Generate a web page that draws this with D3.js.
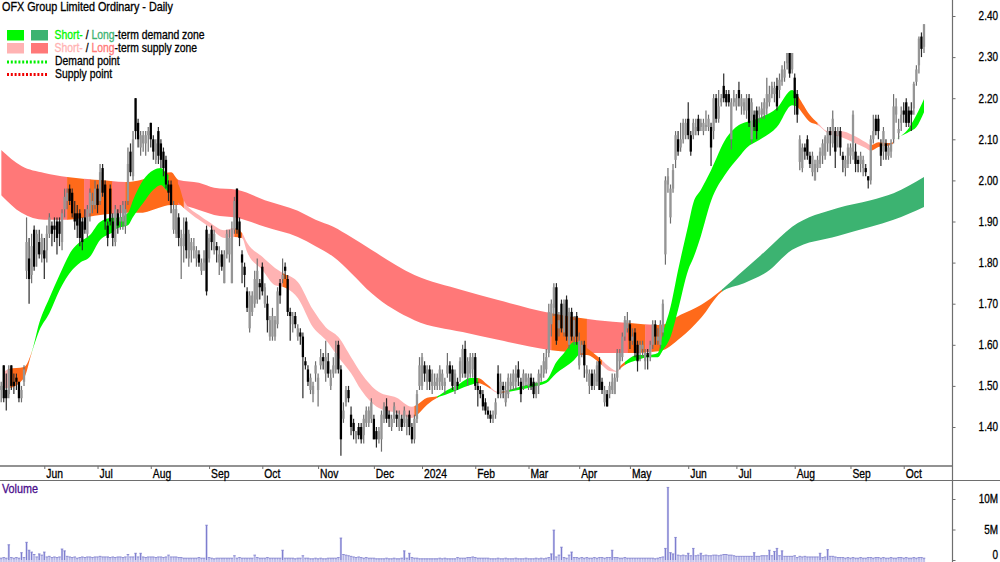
<!DOCTYPE html>
<html><head><meta charset="utf-8">
<script src="https://cdn.jsdelivr.net/npm/d3@7"></script>
<style>html,body{margin:0;padding:0;background:#fff;overflow:hidden}svg{display:block}
text{font-family:"Liberation Sans",Arial,sans-serif}</style></head><body>
<svg id="c" width="1000" height="562"></svg>
<script>
const title="OFX Group Limited Ordinary - Daily";
const monthStarts=[17,38,59,82,103,125,147,166,187,208,228,248,271,290,313,335,356];
const monthLabels=["Jun","Jul","Aug","Sep","Oct","Nov","Dec","2024","Feb","Mar","Apr","May","Jun","Jul","Aug","Sep","Oct"];
const priceTicks=[240,230,220,210,200,190,180,170,160,150,140];
const volumeTicks=[0,5,10];
// prices in cents, one entry per trading day
const opens=[149,155,149,148,155,151,152,151,147,151,
178,181,177,188,182,185,182,183,183,187,
189,189,190,190,185,193,195,198,197,192,
192,192,190,191,187,192,194,194,198,195,
203,199,189,198,190,185,192,190,190,189,
195,207,201,220,214,208,209,209,211,214,
210,205,212,209,207,205,199,199,188,187,
191,184,184,190,181,183,183,181,182,178,
180,188,181,188,183,184,180,182,175,182,
182,175,188,198,190,182,179,173,164,168,
170,171,175,179,170,170,162,162,162,165,
175,176,179,176,168,165,167,162,163,162,
156,154,149,148,153,149,155,157,153,156,
150,153,154,160,154,142,146,149,143,141,
137,140,140,138,141,141,142,142,139,137,
137,142,145,143,140,142,143,140,142,141,
140,143,140,137,142,150,150,155,151,154,
150,150,150,151,150,150,153,155,154,149,
151,152,153,159,152,153,154,157,150,149,
148,146,144,143,142,143,153,148,150,146,
148,150,150,151,154,151,150,151,150,152,
151,148,150,152,153,154,158,165,169,174,
164,170,163,171,160,168,162,167,155,158,
160,153,150,153,150,151,156,151,146,148,
148,149,148,152,156,157,162,164,165,161,
163,160,158,159,156,158,157,160,165,161,
160,163,182,199,191,198,205,210,208,210,
211,215,211,211,212,215,213,212,213,213,
213,212,220,215,219,223,221,221,210,219,
218,222,218,217,217,220,210,216,217,216,
216,216,217.5,219,221,221,223,222,224,225,
228.5,231,227,225,221,204.5,203,208,210,206,
202,200,203,204,206,206,209,212,209,212,
211,212,206,203,204,206,207,207,205,204,
203,203,201,200,210,215,215,209,207,209,
206,207,210,216,211.5,214,217,219,217,217,
217.5,224,228,235,232.5];
const closes=[150,147,147,154,150,150,151,147,149,154,
185,176,184,179,187,182,186,181,187,191,
187,188,186,187,192,196,197,195,192,190,
189,186,185,188,193,197,195,198,194,202,
197,190,186,190,186,193,189,191,194,193,
204,202,210,212,210,211,211,211,212,210,
207,209,206,205,203,199,197,194,193,193,
186,186,187,183,187,185,184,183,180,180,
181,173,186,185,187,183,182,179,182,187,
186,188,195,188,186,180,177,169,172,172,
176,178,174,173,174,166,166,167,166,173,
172,177,178,168,167,167,165,164,162,157,
155,151,152,150,155,152,157,156,157,153,
152,155,158,154,137,144,149,147,140,139,
139,138,137,142,144,144,146,137,137,139,
143,145,142,142,142,145,142,143,140,144,
142,140,137,142,148,155,157,153,154,151,
153,151,152,154,153,151,155,153,150,153,
150,156,159,153,156,157,157,150,149,148,
145,144,143,142,143,146,148,151,149,149,
152,151,153,153,152,148,153,153,152,150,
148,150,153,153,156,157,168,170,174,161,
166,164,170,162,168,162,166,162,161,160,
155,154,153,150,153,155,149,149,149,145,
150,151,152,158,158,162,166,166,161,162,
158,156,160,160,158,157,160,165,162,162,
165,170,200,201,198,202.5,211,207,210,214,
214,211,207,214,213,212,214,214,213.5,215,
208,220,215,218,220,220,219,219,219,220,
220,220,220,219,220,214,219,213,212,217,
217.5,219,221,221,223,222.5,218,224.5,227,227,
231,226,231,220,216,210,208,207,206,204,
206,204,205,207,209,210.5,212,211,215,207,
212,208,205,205,208,208,216,204,204,206,
205,202,200,210,212,212,212,206,212,207,
208,209,218,218,212.5,216,216,214,214,216,
223.5,227,234.5,232,238];
const highs=[151,155,153,155,155,153,153,151,150,155,
191,186,187,189,188,188,187,186,189,192,
190,191,191,191,193,198,198,199,198,195,
194,193,191,193,194,198,197,200,199,204,
204,200,190,199,192,194,193,194,195,195,
208,209,212,220,215,212,212,212,213,214,
211,210,213,210,208,206,200,200,195,194,
192,188,191,191,188,186,186,184,183,181,
183,189,187,189,188,185,184,183,183,188,
188,190,196,198,191,183,180,174,173,173,
178,181,176,180,175,172,167,169,167,174,
176,181,180,177,169,168,168,165,164,163,
157,155,153,151,156,153,159,158,161,158,
154,157,161,161,155,146,150,150,145,142,
139,141,141,143,145,145,147,143,140,140,
144,146,147,144,143,146,144,144,143,145,
143,144,141,143,149,157,158,156,155,155,
154,153,153,155,154,152,158,156,155,154,
152,157,160,161,157,158,158,158,151,150,
149,147,145,144,144,147,155,153,151,151,
153,153,154,155,156,152,154,153,153,153,
152,151,154,155,158,159,170,171,175,175,
168,171,171,172,169,169,167,168,163,161,
161,155,154,154,154,156,157,152,150,149,
151,153,153,159,159,163,167,168,166,164,
164,161,161,161,159,159,161,166,166,164,
166,171,201,203,199,204,212,212,214,215,
215,219,212,215,215,216,215,215,217,216,
214,221,221,222,221,226,222,222,220,222,
221,224,221,220,221,221,220,217,218,218,
219,220,225,223,224,224,225,226,228,229,
231,231,231,226,222,211,209,209,211,207,
207,205,206,208,210,211,213,213,217,213,
213,213,207,206,209,209,217,209,206,207,
206,204,201,211,216,216,216,210,213,210,
209,210,221,220,215,218,219,220,218,219,
224,228,235,236,238];
const lows=[146,146,144,147,149,148,149,146,146,150,
176,170,175,178,179,181,180,176,180,186,
184,185,182,184,183,191,193,194,191,188,
186,184,183,187,186,190,192,193,192,194,
196,188,184,189,184,184,187,188,188,187,
194,201,200,210,208,206,207,206,207,208,
205,204,204,203,201,198,195,192,187,186,
184,176,180,181,179,180,181,179,179,177,
178,172,180,183,182,180,177,178,175,181,
180,175,187,187,184,175,174,168,163,167,
169,170,171,172,169,163,161,161,161,164,
170,175,176,167,161,163,164,161,160,147,
154,150,148,146,151,145,154,154,151,152,
149,152,153,153,133,141,145,146,138,137,
136,137,136,136,140,140,141,137,135,136,
134,141,141,140,139,141,140,139,139,140,
138,138,136,136,141,149,149,151,149,149,
148,149,149,149,149,148,152,151,149,148,
149,151,152,152,150,152,152,149,145,147,
144,143,142,141,141,142,147,147,147,145,
147,149,149,149,150,146,149,150,149,149,
147,147,148,151,152,153,157,162,167,160,
162,163,162,161,159,161,160,160,154,157,
152,151,148,149,149,150,149,148,145,145,
147,148,148,151,154,156,161,163,159,160,
157,153.5,156,157,154,154,156,159,160,160,
159,162,179.5,197,189.5,197,203,206,207,209,
210,210,206,210,211,211,212,211,212,212,
203.5,210,214,214,218,219,218,218,207.5,218,
217,218,216,216,215,213,209,212,210,214,
215,215,216,218,220,219,217,220,223,224,
227,225,226,216,214,202.5,202,205,205,203,
201,200,202,203,204,205,207,206,208,203,
208,206,202,201,203,204,205,202,202,202,
201,201,198,199,209,211,210,203.5,205,205,
205,205.5,209,214,210,212,214,213,213,212,
216,223,226,230,231];
// volume in millions of shares
const volumes=[.3,.4,.3,2.5,.4,.3,.4,.3,1.2,.4,
2.9,1.6,1.3,.9,.5,1,.8,1.3,.5,.6,
.4,.5,.4,.5,1.8,1.5,.6,.5,.4,.5,
.3,.4,.5,.4,.5,.5,.4,.5,.5,.6,
.5,.5,.5,.4,.5,.4,.5,.5,.4,.5,
.9,.5,.5,1.1,.5,1.1,.5,.4,.5,.5,
.5,.4,.5,.5,.4,.5,.8,.5,.5,.5,
.4,.4,.3,.3,.3,.3,.3,.3,.4,.3,
.3,5.7,.4,.3,.2,.3,.3,.3,.3,.3,
.3,.3,.7,.3,.4,.3,.3,.3,.3,.3,
.8,.4,.3,.3,.3,.4,.3,.3,.3,.3,
.3,1.6,.3,.3,.3,.3,.2,.3,.3,.7,
.3,.3,.2,.2,.3,.2,.3,.2,.2,.3,
.3,.3,.3,.4,3.6,.9,.8,.7,.6,.5,
.4,.5,.4,.3,.4,.3,.3,.3,.2,.2,
.2,.2,.3,.2,.2,.3,.2,.2,.3,1.5,
.3,1.1,.4,.3,.3,.2,.2,.2,.2,.2,
.2,.2,.2,.3,.2,.3,.2,.2,.2,.2,
.4,.3,.3,.3,.4,.4,.5,.4,.3,.3,
.3,.3,.3,.2,.2,.2,.3,.2,.2,.3,
.2,.2,.2,.3,.2,.2,.2,.3,.2,.2,
.2,.3,.2,.3,.2,.3,.4,1,4.9,.5,
.8,2.1,.4,.3,.8,1.3,.4,.4,.3,.4,
.3,.4,.3,.3,.4,.3,.4,.4,.3,.4,
.4,1.6,.4,.4,.3,.3,.4,.3,.3,.3,
.3,.3,.3,.3,.3,.3,.3,.3,.2,.3,
.4,.5,1.9,11.9,1.2,1,3.7,.8,.7,.8,
.7,1.1,.7,1.9,.7,.8,1.1,.7,.8,.7,
.7,.8,.8,.7,.8,.9,.9,.8,.8,.7,
.6,.6,.6,.6,.6,.6,.6,1.2,.6,.6,
.7,.7,.7,1.6,.7,1.4,1.9,.7,1.5,.6,
.6,.6,.6,.7,.4,.6,.5,.6,.5,.5,
.5,.5,.5,1.1,.4,.5,1.7,.6,.6,.5,
.4,.4,.4,.3,.4,.3,.4,.3,.3,.4,
.3,.3,.4,.4,.3,.4,.4,.3,.4,.3,
.3,.4,.3,.3,.4,.4,.3,.4,.3,.3,
.4,.3,.4,.4,.3];
// long-term zone edges, read at these bar numbers
const longIdx=[0,8,17,26,39,50,55,62,67,70,78,84,93,104,117,124,131,138,146,163,182,196,217,235,248,260,268,276,284,293,302,312,330,343,352,364];
const longUpper=[207.4,203.5,201.8,200.8,200.1,199.6,200.1,201.3,202,200.1,199.4,198.2,197.7,195.2,192.6,190.4,188.7,186.2,183.1,177,173.3,170.9,167.7,166,165.3,164.8,167.3,169.7,173.3,178.2,183.1,188.7,193.3,195.2,196.9,200.8];
const longLower=[196.4,192.1,190.4,190.4,191.6,192.1,192.1,193.3,194,194,192.8,191.6,190.9,188.7,186.2,184,181.4,177.5,172.6,166,163.1,161.2,158.7,158,158,158.5,161.7,166.5,172.8,175,177.7,183.1,186.5,188.7,190.4,193.5];
const longBreaks=[0,26,32.7,35,43.7,49,69.7,217,231,247.2,254,256.7,284.3,364];
const longKinds=["supply","mixed","supply","mixed","supply","mixed","supply","mixed","supply","mixed","supply","mixed","demand"];
// short-term zone edges
const shortIdx=[1,3,9,12,15,19,23,28,31,35,39,44,46,50,52,56,60,63,65,70,72,78,82,88,92,95,97,103,108,111,117,123,128,133,138,142,149,156,162,164,168,172,176,180,185,188,192,196,204,209,215,219,222,226,228,231,236,240,243,244,246,251,255,259,261,264,267,271,273,276,280,286,291,294,299,306,312,314,316,319,322,326,331,336,341,343,346,351,353,358,361,364];
const shortUpper=[153.4,154.1,154.6,158.2,165.3,171.4,177,183.1,185,186.7,189.9,190.9,190.9,192.1,195.2,200.1,202.5,203,201.8,198.9,195.2,191.6,189.9,187.9,188.4,187.2,184.8,181.4,178.7,177.5,175.3,168.5,164.3,161.9,157,153.1,148.5,147.1,144.9,145.4,147.1,147.5,149,150.2,151.9,151.9,150.2,148.5,149.7,150.5,151.4,155.8,158,160.7,160.7,159.2,156.8,154.6,153.6,154.6,155.8,157.5,157.5,158,162.9,169.2,178.2,189.1,194.5,197.7,202.5,210.3,213.5,214.2,215.2,217.6,222,220.8,218.8,215.9,214,212,212,211,209.3,208.6,209.3,209.1,210,212.7,215.9,219.8];
const shortLower=[149.5,149.5,151.9,158,163.4,167.7,173.3,178.2,179.9,181.4,185.5,187.4,188.4,189.1,191.1,194.5,197.7,198.9,197.7,194.5,193.3,190.4,188.7,186,186.2,186,182.6,178.2,174.5,174.1,171.4,164.3,161.2,157,153.1,149,144.6,143.4,142.2,142.9,145.4,147.1,148,149,150.2,150.7,149.7,148.3,149,149.7,150.7,153.1,154.4,156.3,157.5,157.5,155.6,153.6,153.4,154.1,155.1,156.3,157,157,158.7,161.9,168.5,178.2,181.1,186.5,195,201.8,205.7,207.9,209.8,213,218.3,217.9,216.4,214.2,213.5,211.5,210.6,209.3,207.9,207.2,208.1,208.6,210,211.8,213,216.6];
const shortBreaks=[1,3,12,66,72,92,95,111,113,163,172,188,193,197,200,228,237,244,246,314,322,343,352,353,364];
const shortKinds=["supply","mixed","demand","mixed","supply","mixed","supply","mixed","supply","mixed","demand","mixed","supply","mixed","demand","mixed","supply","mixed","demand","mixed","supply","mixed","supply","demand"];

const svg=d3.select("#c");
const RIGHT=952, W=1000;
const x=d3.scaleLinear().domain([0,364]).range([1.2,924]);
const y=d3.scaleLinear().domain([240,140]).range([16,427]);
const yv=d3.scaleLinear().domain([0,10]).range([560,499]);
const longColor={supply:"#ff7878",mixed:"#ff6a1a",demand:"#3cb371"};
const shortColor={supply:"#ffb3b3",mixed:"#ff6a1a",demand:"#00f800"};
const defs=svg.append("defs");
let clipN=0;
function zone(idx,up,low,breaks,kinds,colors){
  const rows=idx.map((d,i)=>({i:d,u:up[i],l:low[i]}));
  const area=d3.area().x(d=>x(d.i)).y0(d=>y(d.l)).y1(d=>y(d.u)).curve(d3.curveMonotoneX);
  kinds.forEach((k,n)=>{
    const id="z"+(clipN++);
    defs.append("clipPath").attr("id",id).append("rect")
      .attr("x",x(breaks[n])).attr("width",x(breaks[n+1])-x(breaks[n])+.4)
      .attr("y",0).attr("height",470);
    svg.append("path").datum(rows).attr("d",area).attr("fill",colors[k]).attr("clip-path",`url(#${id})`);
  });
}
zone(longIdx,longUpper,longLower,longBreaks,longKinds,longColor);
zone(shortIdx,shortUpper,shortLower,shortBreaks,shortKinds,shortColor);

// candles
const bars=opens.map((o,i)=>({i,o,c:closes[i],h:Math.max(highs[i],o,closes[i]),l:Math.min(lows[i],o,closes[i])}));
const gc=svg.append("g");
gc.selectAll("line").data(bars).join("line")
  .attr("x1",d=>x(d.i)).attr("x2",d=>x(d.i)).attr("y1",d=>y(d.h)).attr("y2",d=>y(d.l))
  .attr("stroke",d=>d.c>=d.o?"#6e6e6e":"#2a2a2a").attr("stroke-width",1.2);
gc.selectAll("rect").data(bars).join("rect")
  .attr("x",d=>x(d.i)-1.15).attr("width",2.3)
  .attr("y",d=>y(Math.max(d.o,d.c))).attr("height",d=>Math.max(1.2,Math.abs(y(d.o)-y(d.c))))
  .attr("fill",d=>d.c>=d.o?"#959595":"#000");

// volume
const gv=svg.append("g");
gv.selectAll("line.b").data(volumes).join("line").attr("class","b")
  .attr("x1",(d,i)=>x(i)).attr("x2",(d,i)=>x(i)).attr("y1",yv(0)+2).attr("y2",d=>yv(d))
  .attr("stroke","#c4c4ec").attr("stroke-width",2.2);
gv.selectAll("line.c").data(volumes).join("line").attr("class","c")
  .attr("x1",(d,i)=>x(i)).attr("x2",(d,i)=>x(i)).attr("y1",yv(0)).attr("y2",d=>yv(d))
  .attr("stroke",d=>d<1?"#b0b0e2":"#7070c8").attr("stroke-width",.9);
gv.selectAll("line.t").data(volumes).join("line").attr("class","t")
  .attr("x1",(d,i)=>x(i)-1.3).attr("x2",(d,i)=>x(i)+1.3).attr("y1",d=>yv(d)).attr("y2",d=>yv(d))
  .attr("stroke","#7c7ccc").attr("stroke-width",.8);

// frame lines
const frame="#6e6e6e";
svg.append("line").attr("x1",0).attr("x2",RIGHT).attr("y1",466).attr("y2",466).attr("stroke",frame).attr("stroke-width",1.6);
svg.append("line").attr("x1",0).attr("x2",W).attr("y1",480.5).attr("y2",480.5).attr("stroke",frame).attr("stroke-width",1.2);
svg.append("line").attr("x1",RIGHT+.5).attr("x2",RIGHT+.5).attr("y1",0).attr("y2",562).attr("stroke",frame).attr("stroke-width",1.2);

function styleAxis(g){
  g.select(".domain").remove();
  g.selectAll(".tick line").attr("stroke",frame);
  g.selectAll("text").attr("fill","#000").attr("font-size",12).attr("stroke","#000").attr("stroke-width",.3);
}
const SX=.83, MX=.86;
const ap=svg.append("g").attr("transform",`translate(${RIGHT+.5},0)`)
  .call(d3.axisRight(y).tickValues(priceTicks).tickSize(3).tickFormat(d=>(d/100).toFixed(2))).call(styleAxis);
ap.selectAll("text").attr("text-anchor","end").attr("x",45.5/SX).attr("transform",`scale(${SX},1)`);
const av=svg.append("g").attr("transform",`translate(${RIGHT+.5},0)`)
  .call(d3.axisRight(yv).tickValues(volumeTicks).tickSize(3).tickFormat(d=>d?d+"M":"0")).call(styleAxis);
av.selectAll("text").attr("text-anchor","end").attr("x",45.5/SX).attr("transform",`scale(${SX},1)`)
  .filter(d=>d===0).attr("y",-5);
const am=svg.append("g").attr("transform","translate(0,466)")
  .call(d3.axisBottom(x).tickValues(monthStarts).tickSize(3).tickFormat((d,i)=>monthLabels[i])).call(styleAxis);
am.selectAll("text").attr("text-anchor","start").attr("x",1.5/MX).attr("y",3).attr("dy","0.71em").attr("transform",`scale(${MX},1)`);

// title, legend
function label(tx,ty,parts,sx){
  const t=svg.append("text").attr("x",tx/sx).attr("y",ty).attr("font-size",12).attr("stroke-width",.3).attr("transform",`scale(${sx},1)`);
  parts.forEach(([s,c])=>t.append("tspan").text(s).attr("fill",c).attr("stroke",c).attr("xml:space","preserve"));
}
label(2,11,[[title,"#000"]],.9);
const sw=(xx,yy,c)=>svg.append("rect").attr("x",xx).attr("y",yy).attr("width",17).attr("height",10.5).attr("fill",c);
sw(7,30,shortColor.demand);sw(31,30,longColor.demand);
sw(7,43,shortColor.supply);sw(31,43,longColor.supply);
label(54.5,39,[["Short-",shortColor.demand],[" / ","#000"],["Long",longColor.demand],["-term demand zone","#000"]],.866);
label(54.5,52,[["Short-",shortColor.supply],[" / ","#000"],["Long",longColor.supply],["-term supply zone","#000"]],.866);
[[62,"#00f000"],[74.5,"#f00000"]].forEach(([yy,c])=>svg.append("line").attr("x1",7).attr("x2",48).attr("y1",yy).attr("y2",yy).attr("stroke",c).attr("stroke-width",3).attr("stroke-dasharray","2 1.8"));
label(55,65.5,[["Demand point","#000"]],.866);
label(55,78.5,[["Supply point","#000"]],.866);
label(2,493,[["Volume","#4b0f8c"]],.9);
</script></body></html>
